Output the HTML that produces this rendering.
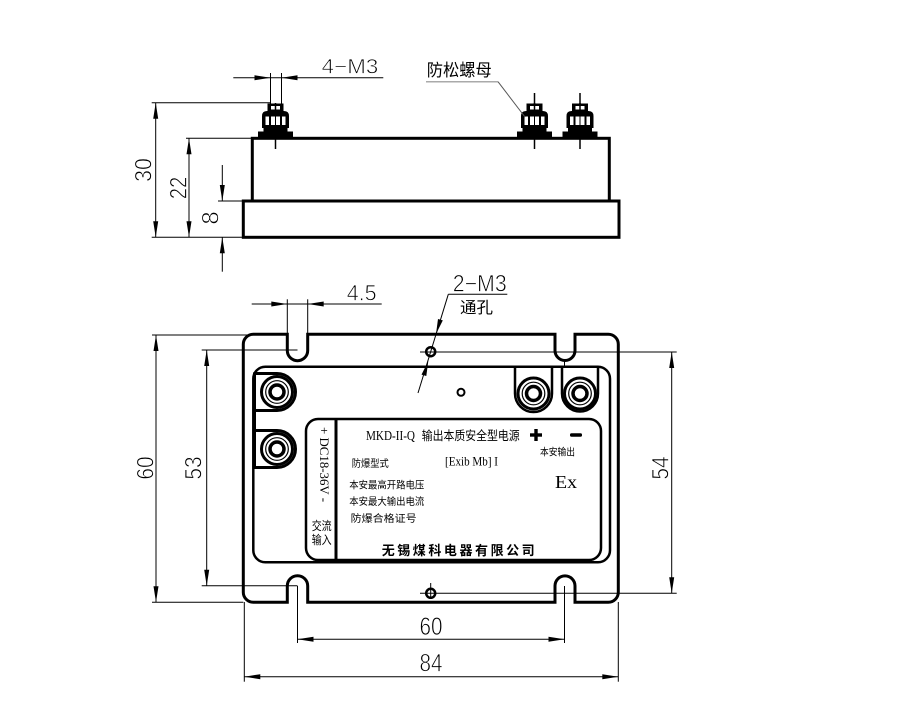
<!DOCTYPE html>
<html><head><meta charset="utf-8"><style>
html,body{margin:0;padding:0;background:#fff;}
svg{display:block;}
text{font-family:"Liberation Sans",sans-serif;fill:#000;}
.dim{stroke:#fff;stroke-width:0.7;}
.cjk{font-family:"Liberation Sans","Noto Sans CJK SC",sans-serif;}
.serif{font-family:"Liberation Serif","Noto Serif CJK SC",serif;}
</style></head><body>
<svg width="900" height="703" viewBox="0 0 900 703" xmlns="http://www.w3.org/2000/svg">
<defs>
  <g id="nut">
    <rect x="-17.5" y="131.5" width="35" height="7" fill="#000"/>
    <rect x="-12" y="126" width="24" height="6" fill="#000"/>
    <path d="M -13.5 128 V 116 Q -13.5 111 -8.5 111 H 8.5 Q 13.5 111 13.5 116 V 128 Z" fill="#000"/>
    <rect x="-10" y="116.5" width="20" height="8.5" fill="#fff"/>
    <line x1="-5.5" y1="116" x2="-5.5" y2="125" stroke="#000" stroke-width="2"/>
    <line x1="5.5" y1="116" x2="5.5" y2="125" stroke="#000" stroke-width="2"/>
    <line x1="0" y1="116" x2="0" y2="125" stroke="#000" stroke-width="1"/>
    <rect x="-8" y="103.5" width="16" height="8" fill="#000"/>
    <rect x="-4.5" y="106" width="9" height="3.5" fill="#fff"/>
    <line x1="0" y1="103" x2="0" y2="112" stroke="#000" stroke-width="1.5"/>
    <line x1="0" y1="138" x2="0" y2="149" stroke="#000" stroke-width="1.5"/>
  </g>
  <g id="term" fill="none" stroke="#000">
    <circle r="15.5" stroke-width="3"/>
    <circle r="11.3" stroke-width="1.2"/>
    <circle r="7" stroke-width="3.5"/>
  </g>
</defs>

<!-- ================= TOP (SIDE) VIEW ================= -->
<rect x="252.3" y="138.3" width="357" height="62.7" fill="none" stroke="#000" stroke-width="3"/>
<rect x="243.3" y="201" width="375.7" height="36.3" fill="none" stroke="#000" stroke-width="3"/>
<use href="#nut" x="275.5" y="0"/>
<use href="#nut" x="534.5" y="0"/>
<use href="#nut" x="580" y="0"/>
<line x1="534.5" y1="93" x2="534.5" y2="104" stroke="#000" stroke-width="1.5"/>
<line x1="580" y1="93" x2="580" y2="104" stroke="#000" stroke-width="1.5"/>

<g stroke="#000" stroke-width="1" fill="none">
  <line x1="155.7" y1="102.7" x2="155.7" y2="237.3"/>
  <line x1="151.7" y1="102.7" x2="270.5" y2="102.7"/>
  <line x1="151.7" y1="237.3" x2="243.3" y2="237.3"/>
  <line x1="189" y1="138.3" x2="189" y2="237.3"/>
  <line x1="186" y1="138.3" x2="252.3" y2="138.3"/>
  <line x1="222.3" y1="165" x2="222.3" y2="201"/>
  <line x1="222.3" y1="237.3" x2="222.3" y2="271.7"/>
  <line x1="218" y1="201" x2="243.3" y2="201"/>
  <line x1="233.3" y1="77.7" x2="383.3" y2="77.7"/>
  <line x1="270.5" y1="73" x2="270.5" y2="104"/>
  <line x1="281.5" y1="73" x2="281.5" y2="104"/>
</g>
<g fill="#000">
  <polygon points="155.7,102.7 153.2,118.7 158.2,118.7"/>
  <polygon points="155.7,237.3 153.2,221.3 158.2,221.3"/>
  <polygon points="189,138.3 186.5,154.3 191.5,154.3"/>
  <polygon points="189,237.3 186.5,221.3 191.5,221.3"/>
  <polygon points="222.3,201 219.8,185 224.8,185"/>
  <polygon points="222.3,237.3 219.8,253.3 224.8,253.3"/>
  <polygon points="270.5,77.7 254.5,75.2 254.5,80.2"/>
  <polygon points="281.5,77.7 297.5,75.2 297.5,80.2"/>
</g>
<text class="dim" x="350" y="73.3" font-size="21" text-anchor="middle" textLength="56.6" lengthAdjust="spacingAndGlyphs">4−M3</text>
<text class="dim" transform="translate(151.7,170) rotate(-90)" font-size="24" text-anchor="middle" textLength="23.7" lengthAdjust="spacingAndGlyphs">30</text>
<text class="dim" transform="translate(186.7,188) rotate(-90)" font-size="24" text-anchor="middle" textLength="22.6" lengthAdjust="spacingAndGlyphs">22</text>
<text class="dim" transform="translate(218.3,218) rotate(-90)" font-size="24" text-anchor="middle">8</text>

<line x1="426" y1="81.7" x2="498" y2="81.7" stroke="#aaa" stroke-width="1.5"/>
<line x1="498" y1="81.7" x2="525" y2="117" stroke="#555" stroke-width="1"/>
<text class="cjk" x="426.7" y="76" font-size="17" textLength="65" lengthAdjust="spacingAndGlyphs">防松螺母</text>

<!-- ================= PLAN VIEW ================= -->
<path d="M 253.3 334.3 H 287.3 V 350.5 A 10.2 10.2 0 0 0 307.7 350.5 V 334.3 H 555 V 350.5 A 10 10 0 0 0 575 350.5 V 334.3 H 608.3 A 10 10 0 0 1 618.3 344.3 V 592.3 A 10 10 0 0 1 608.3 602.3 H 575 V 585.9 A 10 10 0 0 0 555 585.9 V 602.3 H 307.7 V 585.9 A 10.2 10.2 0 0 0 287.3 585.9 V 602.3 H 253.3 A 10 10 0 0 1 243.3 592.3 V 344.3 A 10 10 0 0 1 253.3 334.3 Z" fill="none" stroke="#000" stroke-width="3"/>

<rect x="253.3" y="366.7" width="356.7" height="195.6" rx="12" fill="none" stroke="#000" stroke-width="2.5"/>

<path d="M 253.3 373.5 H 277 A 18.5 18.5 0 0 1 277 410.5 H 253.3" fill="none" stroke="#000" stroke-width="3"/>
<path d="M 253.3 430.5 H 277 A 18.5 18.5 0 0 1 277 467.5 H 253.3" fill="none" stroke="#000" stroke-width="3"/>
<line x1="254.5" y1="373" x2="254.5" y2="468" stroke="#000" stroke-width="3"/>
<use href="#term" x="277" y="392"/>
<use href="#term" x="277" y="449"/>

<path d="M 515 366.7 V 393.5 A 18.5 18.5 0 0 0 552 393.5 V 366.7" fill="none" stroke="#000" stroke-width="2.5"/>
<path d="M 562 366.7 V 393.5 A 18 18 0 0 0 598 393.5 V 366.7" fill="none" stroke="#000" stroke-width="2.5"/>
<use href="#term" x="533.5" y="393.5"/>
<use href="#term" x="580" y="393.5"/>

<circle cx="461" cy="392.3" r="3.5" fill="none" stroke="#000" stroke-width="2"/>

<rect x="306" y="419" width="295" height="141" rx="12" fill="none" stroke="#000" stroke-width="2.5"/>
<line x1="336" y1="419" x2="336" y2="560" stroke="#000" stroke-width="3"/>

<g stroke="#000" stroke-width="1" fill="none">
  <line x1="420" y1="352" x2="676.7" y2="352"/>
  <line x1="420" y1="593.3" x2="676.7" y2="593.3"/>
  <line x1="430.7" y1="583" x2="430.7" y2="599"/>
  <line x1="564.5" y1="360" x2="564.5" y2="367"/>
  <line x1="156" y1="335" x2="156" y2="602.3"/>
  <line x1="152" y1="335" x2="287" y2="335"/>
  <line x1="152" y1="602.3" x2="243.3" y2="602.3"/>
  <line x1="206.7" y1="350" x2="206.7" y2="585.7"/>
  <line x1="201.7" y1="350" x2="297.5" y2="350"/>
  <line x1="201.7" y1="585.7" x2="297.5" y2="585.7"/>
  <line x1="671.7" y1="352" x2="671.7" y2="593.3"/>
  <line x1="297.5" y1="639.3" x2="564.5" y2="639.3"/>
  <line x1="297.5" y1="586" x2="297.5" y2="643"/>
  <line x1="564.5" y1="586" x2="564.5" y2="643"/>
  <line x1="244.3" y1="676.7" x2="618.3" y2="676.7"/>
  <line x1="244.3" y1="602" x2="244.3" y2="681.7"/>
  <line x1="618.3" y1="602" x2="618.3" y2="681.7"/>
  <line x1="251.7" y1="304" x2="381.7" y2="304"/>
  <line x1="287.3" y1="299.3" x2="287.3" y2="334"/>
  <line x1="307.7" y1="299.3" x2="307.7" y2="334"/>
  <line x1="448.3" y1="294.3" x2="507.3" y2="294.3"/>
  <line x1="448.3" y1="294.3" x2="418" y2="393"/>
</g>
<circle cx="430.7" cy="351.7" r="4.5" fill="none" stroke="#000" stroke-width="2.5"/>
<circle cx="430.7" cy="593.3" r="4.5" fill="none" stroke="#000" stroke-width="2.5"/>

<g fill="#000">
  <polygon points="156,335 153.5,351 158.5,351"/>
  <polygon points="156,602.3 153.5,586.3 158.5,586.3"/>
  <polygon points="206.7,350 204.2,366 209.2,366"/>
  <polygon points="206.7,585.7 204.2,569.7 209.2,569.7"/>
  <polygon points="671.7,352 669.2,368 674.2,368"/>
  <polygon points="671.7,593.3 669.2,577.3 674.2,577.3"/>
  <polygon points="297.5,639.3 313.5,636.8 313.5,641.8"/>
  <polygon points="564.5,639.3 548.5,636.8 548.5,641.8"/>
  <polygon points="244.3,676.7 260.3,674.2 260.3,679.2"/>
  <polygon points="618.3,676.7 602.3,674.2 602.3,679.2"/>
  <polygon points="287.3,304 271.3,301.5 271.3,306.5"/>
  <polygon points="307.7,304 323.7,301.5 323.7,306.5"/>
  <polygon points="436,334 442.8,320.4 438,319"/>
  <polygon points="428.3,361 426.3,376 421.5,374.6"/>
</g>

<text class="dim" x="361.7" y="300.7" font-size="22" text-anchor="middle" textLength="30" lengthAdjust="spacingAndGlyphs">4.5</text>
<text class="dim" x="479.7" y="291.7" font-size="24" text-anchor="middle" textLength="54" lengthAdjust="spacingAndGlyphs">2−M3</text>
<text class="cjk" x="460" y="313" font-size="16" textLength="33" lengthAdjust="spacingAndGlyphs">通孔</text>
<text class="dim" x="431" y="635" font-size="25" text-anchor="middle" textLength="23" lengthAdjust="spacingAndGlyphs">60</text>
<text class="dim" x="431" y="671.7" font-size="25" text-anchor="middle" textLength="23" lengthAdjust="spacingAndGlyphs">84</text>
<text class="dim" transform="translate(153.3,468) rotate(-90)" font-size="24" text-anchor="middle" textLength="23.3" lengthAdjust="spacingAndGlyphs">60</text>
<text class="dim" transform="translate(201.7,468) rotate(-90)" font-size="24" text-anchor="middle" textLength="23.3" lengthAdjust="spacingAndGlyphs">53</text>
<text class="dim" transform="translate(668.3,468) rotate(-90)" font-size="24" text-anchor="middle" textLength="23.3" lengthAdjust="spacingAndGlyphs">54</text>

<text class="serif" transform="translate(320,427) rotate(90)" font-size="13" textLength="75" lengthAdjust="spacingAndGlyphs">+ DC18-36V -</text>
<text class="cjk" x="311.7" y="530" font-size="12" textLength="20" lengthAdjust="spacingAndGlyphs">交流</text>
<text class="cjk" x="311.7" y="544" font-size="12" textLength="20" lengthAdjust="spacingAndGlyphs">输入</text>

<text class="serif" x="366" y="440" font-size="13.5" textLength="49" lengthAdjust="spacingAndGlyphs">MKD-II-Q</text>
<text class="cjk" x="421.7" y="440" font-size="12.5" textLength="98" lengthAdjust="spacingAndGlyphs">输出本质安全型电源</text>
<rect x="530" y="433.3" width="12" height="3.4" fill="#000"/>
<rect x="534.3" y="429" width="3.4" height="12" fill="#000"/>
<rect x="570" y="433.3" width="12" height="3.4" rx="1.5" fill="#000"/>
<text class="cjk" x="540" y="455.5" font-size="10" textLength="35" lengthAdjust="spacingAndGlyphs">本安输出</text>

<text class="cjk" x="351.7" y="467" font-size="10" textLength="37" lengthAdjust="spacingAndGlyphs">防爆型式</text>
<text class="serif" x="445" y="465.5" font-size="13" textLength="53" lengthAdjust="spacingAndGlyphs">[Exib Mb] I</text>
<text class="serif" x="555" y="488" font-size="18" textLength="22" lengthAdjust="spacingAndGlyphs">Ex</text>
<text class="cjk" x="349.3" y="488.5" font-size="10" textLength="75" lengthAdjust="spacingAndGlyphs">本安最高开路电压</text>
<text class="cjk" x="349.3" y="505" font-size="10" textLength="75" lengthAdjust="spacingAndGlyphs">本安最大输出电流</text>
<text class="cjk" x="350.7" y="522" font-size="10" textLength="66" lengthAdjust="spacingAndGlyphs">防爆合格证号</text>
<text class="cjk" x="381.7" y="555" font-size="13" font-weight="bold" textLength="153" lengthAdjust="spacing">无锡煤科电器有限公司</text>
</svg>
</body></html>
